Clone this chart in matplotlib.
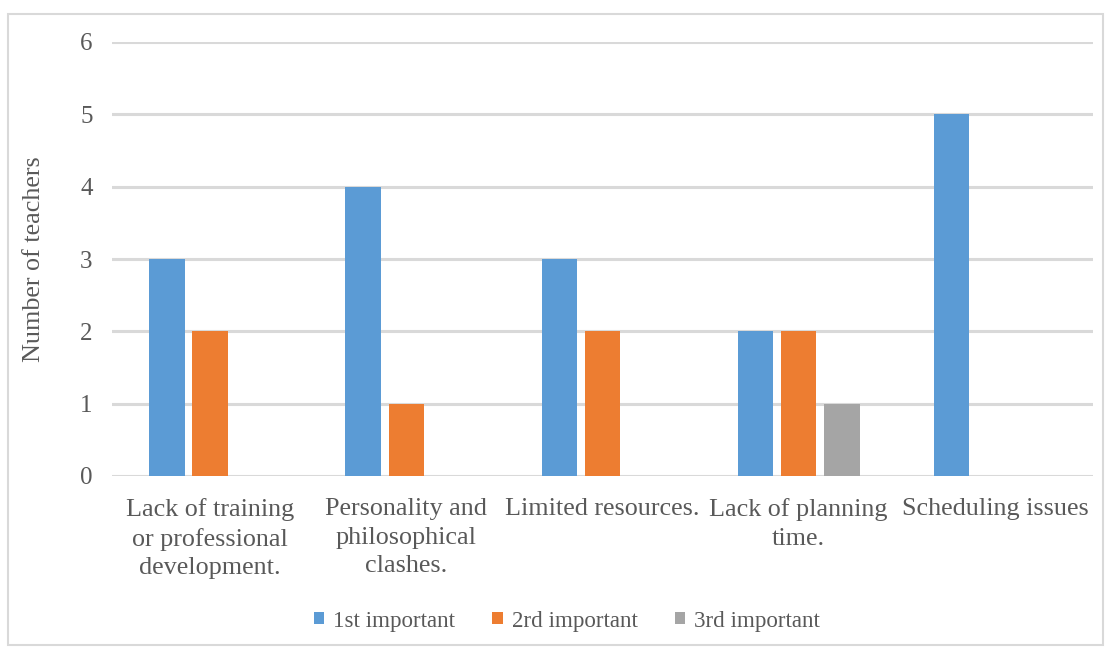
import matplotlib
matplotlib.use("Agg")
import matplotlib.pyplot as plt
from matplotlib.patches import Rectangle, Patch
import numpy as np

categories = ["Lack of training\nor professional\ndevelopment.",
              "Personality and\nphilosophical\nclashes.",
              "Limited resources.",
              "Lack of planning\ntime.",
              "Scheduling issues"]
series_names = ["1st important", "2rd important", "3rd important"]
first = [3, 4, 3, 2, 5]
second = [2, 1, 2, 2, 0]
third = [0, 0, 0, 1, 0]
colors = ["#5B9BD5", "#ED7D31", "#A5A5A5"]
yticks = [0, 1, 2, 3, 4, 5, 6]

plt.rcParams['font.family'] = ['Liberation Serif', 'DejaVu Serif']
text_color = "#595959"

fig = plt.figure(figsize=(11.11, 6.5), dpi=100)
fig.patches.append(Rectangle((8/1111, 1-645/650), 1095/1111, 631/650,
                             transform=fig.transFigure, fill=False,
                             edgecolor="#D9D9D9", linewidth=1.5))
ax = fig.add_axes([112/1111, 1-476/650, 981/1111, 434/650])

x = np.arange(len(categories))
w = 0.18
off = 0.22
for i, vals in enumerate([first, second, third]):
    ax.bar(x + (i-1)*off, vals, width=w, color=colors[i], zorder=3,
           label=series_names[i])

ax.set_xlim(-0.5, len(categories)-0.5)
ax.set_ylim(0, 6)
ax.set_yticks(yticks)
ax.set_yticklabels([str(t) for t in yticks], fontsize=18, color=text_color)
ax.set_xticks(x)
ax.set_xticklabels(categories, fontsize=18.8, color=text_color, linespacing=1.38)
ax.tick_params(axis='both', length=0)
ax.tick_params(axis='y', pad=14)
ax.tick_params(axis='x', pad=16)
ax.yaxis.grid(True, color="#D9D9D9", linewidth=2.2, zorder=0)
for s in ax.spines.values():
    s.set_visible(False)
ax.set_ylabel("Number of teachers", fontsize=18.8, color=text_color, labelpad=25)

handles = [Patch(facecolor=c, edgecolor='none') for c in colors]
leg = fig.legend(handles, series_names, loc='center', bbox_to_anchor=(567/1111, 1-621/650),
                 ncol=3, frameon=False, fontsize=16.6, handlelength=0.45, handleheight=0.45,
                 columnspacing=1.6, handletextpad=0.4, labelcolor=text_color)

fig.savefig("out.png", dpi=100)
